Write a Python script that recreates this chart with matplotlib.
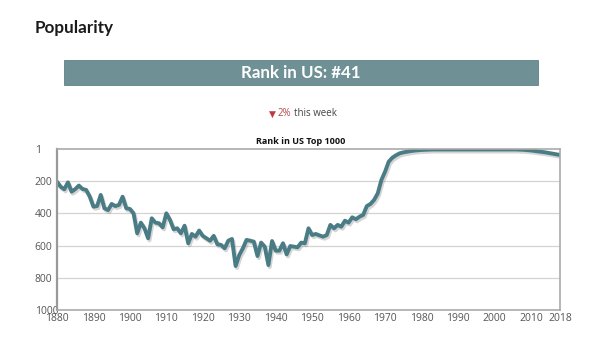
import matplotlib
matplotlib.use("Agg")
import matplotlib.pyplot as plt
import matplotlib.patheffects as pe
from matplotlib.patches import Rectangle

years = list(range(1880, 2019))
ranks = [
    204, 235, 251, 208, 266, 250, 228, 249, 255, 297,   # 1880-1889
    359, 355, 286, 369, 380, 342, 355, 348, 297, 369,   # 1890-1899
    373, 400, 524, 458, 493, 555, 431, 458, 462, 487,   # 1900-1909
    400, 441, 499, 493, 524, 477, 586, 528, 545, 507,   # 1910-1919
    540, 555, 570, 540, 592, 596, 617, 570, 559, 727,   # 1920-1929
    659, 617, 565, 570, 576, 665, 582, 607, 721, 572,   # 1930-1939
    632, 632, 586, 655, 603, 607, 611, 582, 586, 493,   # 1940-1949
    535, 528, 537, 545, 535, 472, 493, 472, 483, 446,   # 1950-1959
    458, 425, 437, 421, 410, 355, 342, 317, 276, 193,   # 1960-1969
    142, 80, 55, 40, 28, 22, 18, 14, 11, 9,             # 1970-1979
    7, 6, 5, 4, 4, 4, 4, 4, 4, 4,                       # 1980-1989
    4, 4, 4, 4, 4, 4, 4, 4, 4, 4,                       # 1990-1999
    4, 4, 4, 4, 4, 4, 4, 5, 6, 8,                       # 2000-2009
    10, 13, 16, 19, 22, 26, 30, 34, 38,                 # 2010-2018
]
y_ticks = [1, 200, 400, 600, 800, 1000]
x_ticks = [1880, 1890, 1900, 1910, 1920, 1930, 1940, 1950, 1960, 1970,
           1980, 1990, 2000, 2010, 2018]

page_title = "Popularity"
banner_text = "Rank in US: #41"
change_value = "2%"
change_text = "this week"
chart_title = "Rank in US Top 1000"

W, H = 600, 351
fig = plt.figure(figsize=(W / 100, H / 100), dpi=100)
fig.patch.set_facecolor("white")

def fx(px):
    return px / W

def fy(py):
    return 1 - py / H

fig.text(fx(35), fy(28), page_title, fontsize=12.3, fontweight="bold",
         family=["Lato", "DejaVu Sans"], color="#1a1a1a", va="center", ha="left")

fig.patches.append(Rectangle((fx(64), fy(85)), fx(538) - fx(64), fy(60) - fy(85),
                             transform=fig.transFigure, facecolor="#6f9196",
                             edgecolor="#5f8186", lw=0.6))
fig.text(fx(301), fy(72.5), banner_text, fontsize=12.2, fontweight="bold",
         family=["Lato", "DejaVu Sans"], color="white", va="center", ha="center")

fig.text(fx(272), fy(114), "\u25BC", fontsize=6.5, color="#c0393b",
         va="center", ha="center", family=["DejaVu Sans"])
t1 = fig.text(fx(278), fy(114), change_value, fontsize=7, color="#b04a4a",
              va="center", ha="left", family=["Open Sans", "DejaVu Sans"])
fig.canvas.draw()
bb = t1.get_window_extent(renderer=fig.canvas.get_renderer())
fig.text((bb.x1 + 2.5) / W, fy(114), change_text, fontsize=7, color="#444444",
         va="center", ha="left", family=["Open Sans", "DejaVu Sans"])

fig.text(fx(301), fy(141), chart_title, fontsize=6.5, fontweight="bold",
         family=["Open Sans", "DejaVu Sans"], color="#111111", va="center", ha="center")

ax = fig.add_axes([fx(57), fy(310), fx(560) - fx(57), fy(149) - fy(310)])
ax.plot(years, ranks, color="#4a7c86", lw=2.8, solid_joinstyle="round",
        solid_capstyle="round",
        path_effects=[pe.SimpleLineShadow(offset=(1.0, -1.5), shadow_color="#888888", alpha=0.35),
                      pe.Normal()])
ax.set_xlim(1880, 2018)
ax.set_ylim(1000, 1)
ax.set_yticks(y_ticks)
ax.set_xticks(x_ticks)
ax.set_yticklabels([str(v) for v in y_ticks])
ax.set_xticklabels([str(v) for v in x_ticks])
for g in [200, 400, 600, 800]:
    ax.axhline(g, color="#d4d4d4", lw=0.9, zorder=0)
for s in ax.spines.values():
    s.set_color("#aaaaaa")
    s.set_linewidth(1.2)
ax.spines["left"].set_color("#999999")
ax.spines["left"].set_linewidth(1.6)
ax.tick_params(axis="both", length=0, labelsize=7.5, labelcolor="#555555")
ax.tick_params(axis="y", pad=16)
ax.tick_params(axis="x", pad=2)
for lab in ax.get_yticklabels():
    lab.set_horizontalalignment("left")
    lab.set_family(["Open Sans", "DejaVu Sans"])
for lab in ax.get_xticklabels():
    lab.set_family(["Open Sans", "DejaVu Sans"])

fig.savefig("out.png", dpi=100)
